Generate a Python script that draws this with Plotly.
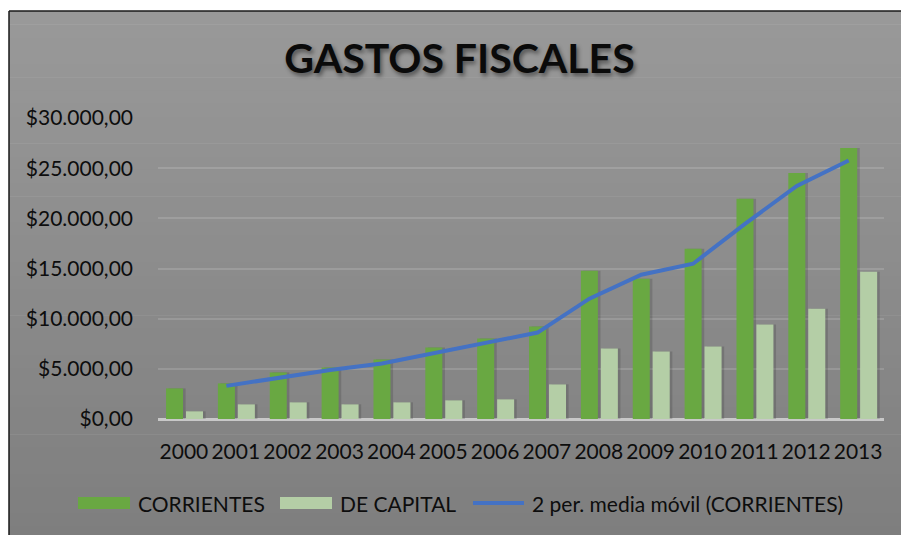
import plotly.graph_objects as go

# ---- data ----
years = ["2000", "2001", "2002", "2003", "2004", "2005", "2006",
         "2007", "2008", "2009", "2010", "2011", "2012", "2013"]
corrientes = [3050, 3550, 4640, 5140, 5930, 7130, 8020,
              9210, 14780, 13980, 16970, 21940, 24520, 27000]
de_capital = [765, 1460, 1660, 1460, 1660, 1860, 1960,
              3450, 7030, 6730, 7230, 9410, 11000, 14680]
# 2-period moving average of CORRIENTES (starts at 2001)
media_movil = [3300, 4095, 4890, 5535, 6530, 7575, 8615,
               11995, 14380, 15475, 19455, 23230, 25760]

TITLE = "GASTOS FISCALES"
NAMES = ["CORRIENTES", "DE CAPITAL", "2 per. media móvil (CORRIENTES)"]

# ---- styling ----
W, H = 901, 535
ML, MR, MT, MB = 158, 17, 118, 116
PW, PH = W - ML - MR, H - MT - MB
FONT = "Lato, 'Open Sans', sans-serif"
TXT = "#0d0d0d"
C_CORR = "#69a842"
C_CAP = "#b4cea6"
C_LINE = "#4472c4"

BAR_W = 0.328
OFF_CORR = -0.345
OFF_CAP = 0.040

idx = list(range(len(years)))


def px_x(p):  # screen px -> paper x
    return (p - ML) / PW


def px_y(p):  # screen px -> paper y
    return (H - MB - p) / PH


fig = go.Figure()

# soft shadows behind bars
fig.add_trace(go.Bar(x=idx, y=corrientes, width=BAR_W, offset=OFF_CORR + 0.05,
                     marker=dict(color="rgba(40,40,40,0.20)", line=dict(width=0)),
                     hoverinfo="skip", showlegend=False))
fig.add_trace(go.Bar(x=idx, y=de_capital, width=BAR_W, offset=OFF_CAP + 0.05,
                     marker=dict(color="rgba(40,40,40,0.20)", line=dict(width=0)),
                     hoverinfo="skip", showlegend=False))

fig.add_trace(go.Bar(x=idx, y=corrientes, name=NAMES[0], width=BAR_W, offset=OFF_CORR,
                     marker=dict(color=C_CORR, line=dict(width=0))))
fig.add_trace(go.Bar(x=idx, y=de_capital, name=NAMES[1], width=BAR_W, offset=OFF_CAP,
                     marker=dict(color=C_CAP, line=dict(width=0))))
line_x = [i + OFF_CORR + BAR_W / 2 for i in idx[1:]]
fig.add_trace(go.Scatter(x=line_x, y=media_movil, name=NAMES[2], mode="lines",
                         line=dict(color=C_LINE, width=4)))

# ---- background gradient + frame ----
shapes = []
top_px, bot_px, left_px = 11, 540, 9
n = 40
c_top, c_bot = (153, 153, 153), (126, 126, 126)
for k in range(n):
    y0 = top_px + (bot_px - top_px) * k / n
    y1 = top_px + (bot_px - top_px) * (k + 1) / n + 0.6
    t = (k + 0.5) / n
    c = tuple(round(c_top[j] + (c_bot[j] - c_top[j]) * t) for j in range(3))
    shapes.append(dict(type="rect", xref="paper", yref="paper", layer="below",
                       x0=px_x(left_px), x1=px_x(W + 5), y0=px_y(y0), y1=px_y(y1),
                       fillcolor="rgb(%d,%d,%d)" % c, line=dict(width=0)))
# top and left frame lines only
shapes.append(dict(type="line", xref="paper", yref="paper", layer="above",
                   x0=px_x(left_px), x1=px_x(W + 5), y0=px_y(top_px), y1=px_y(top_px),
                   line=dict(color="#1a1a1a", width=1.5)))
shapes.append(dict(type="line", xref="paper", yref="paper", layer="above",
                   x0=px_x(left_px), x1=px_x(left_px), y0=px_y(top_px), y1=px_y(H + 5),
                   line=dict(color="#1a1a1a", width=1.5)))

# ---- custom legend ----
annotations = []
leg_y = 503
items = [(78, 130, 136, "bar", C_CORR, NAMES[0]),
         (280, 332, 338, "bar", C_CAP, NAMES[1]),
         (473, 524, 530, "line", C_LINE, NAMES[2])]
for x0, x1, xt, kind, col, label in items:
    if kind == "bar":
        shapes.append(dict(type="rect", xref="paper", yref="paper",
                           x0=px_x(x0), x1=px_x(x1), y0=px_y(leg_y + 6), y1=px_y(leg_y - 6),
                           fillcolor=col, line=dict(width=0)))
    else:
        shapes.append(dict(type="line", xref="paper", yref="paper",
                           x0=px_x(x0), x1=px_x(x1), y0=px_y(leg_y), y1=px_y(leg_y),
                           line=dict(color=col, width=4)))
    annotations.append(dict(text=label, xref="paper", yref="paper",
                            x=px_x(xt), y=px_y(leg_y), xanchor="left", yanchor="middle",
                            showarrow=False, font=dict(family=FONT, size=21, color=TXT)))

fig.update_layout(
    width=W, height=H,
    margin=dict(l=ML, r=MR, t=MT, b=MB),
    paper_bgcolor="white",
    plot_bgcolor="rgba(0,0,0,0)",
    barmode="overlay",
    showlegend=False,
    separators=",.",
    font=dict(family=FONT, size=21, color=TXT),
    title=dict(text="<b>" + TITLE + "</b>", x=459.5 / W, xanchor="center",
               y=1 - 58.5 / H, yanchor="middle", xref="container", yref="container",
               font=dict(family=FONT, size=41, color="#0a0a0a",
                         shadow="2px 3px 4px rgba(0,0,0,0.45)")),
    shapes=shapes,
    annotations=annotations,
)
fig.update_xaxes(type="linear", range=[-0.5, len(years) - 0.5], tickvals=idx,
                 ticktext=years, showgrid=False, zeroline=False, showline=False,
                 ticks="", ticklabelstandoff=18,
                 tickfont=dict(family=FONT, size=21, color=TXT))
fig.update_yaxes(range=[0, 30000], dtick=5000, tickprefix="$", tickformat=",.2f",
                 showgrid=True, gridcolor="rgba(255,255,255,0.14)", gridwidth=2,
                 zeroline=True, zerolinecolor="#c8c8c8", zerolinewidth=2.5,
                 showline=False, ticks="", ticklabelstandoff=24,
                 tickfont=dict(family=FONT, size=21, color=TXT))

fig.write_html(
    "out.html",
    config={"displayModeBar": False},
    post_script="document.body.style.margin='0';"
                "document.documentElement.style.overflow='hidden';"
                "document.body.style.overflow='hidden';",
)
